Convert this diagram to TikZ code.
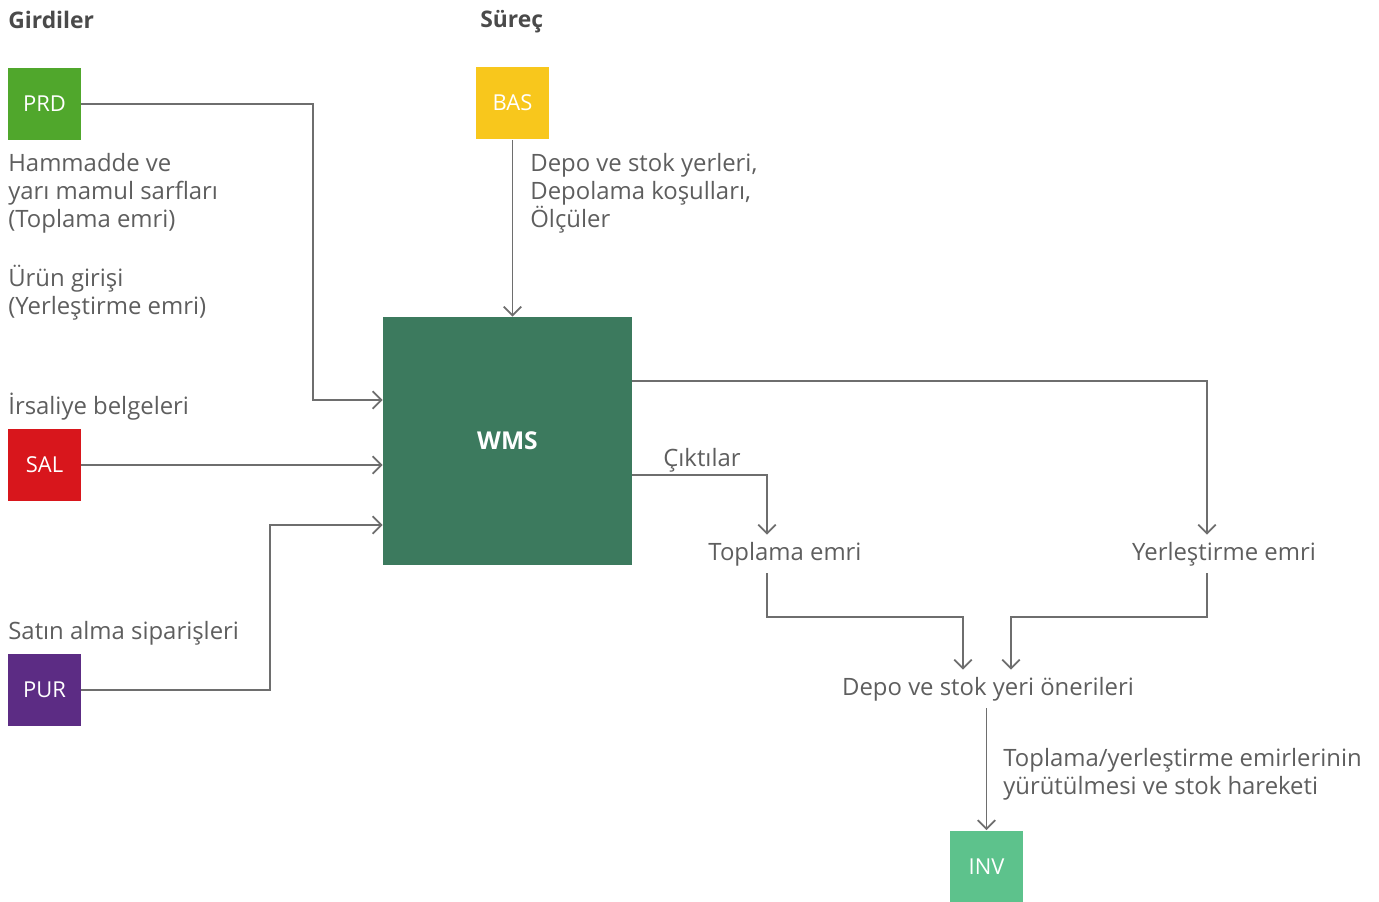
\documentclass[tikz,border=0pt]{standalone}
\usepackage{fontspec}
\setmainfont{Open Sans}
\usetikzlibrary{arrows.meta, calc}

\definecolor{prdgreen}{HTML}{50A72C}
\definecolor{basyellow}{HTML}{F8C71C}
\definecolor{wmsgreen}{HTML}{3C7A5E}
\definecolor{salred}{HTML}{D8161C}
\definecolor{purviolet}{HTML}{5C2C84}
\definecolor{invgreen}{HTML}{5DC28C}
\definecolor{txtgrey}{HTML}{5E5E5E}
\definecolor{headgrey}{HTML}{4A4A4A}
\definecolor{linegrey}{HTML}{6E6E6E}

\begin{document}
\begin{tikzpicture}[
    x=0.02cm, y=-0.02cm,
    >={Straight Barb[length=5pt, width=10pt]},
    module/.style={minimum size=1.46cm, inner sep=0pt, text=white, font=\fontsize{12.5}{15}\selectfont},
    lbl/.style={font=\fontsize{13.6}{16}\selectfont, text=txtgrey, inner sep=0pt, align=left},
    head/.style={font=\fontsize{13}{16}\selectfont\bfseries, text=headgrey, inner sep=0pt},
    flow/.style={->, draw=linegrey, line width=1pt}
]
\useasboundingbox (0,0) rectangle (1379,902);

% Column titles
\node[head, anchor=west] (girdiler) at (8, 20) {Girdiler};
\node[head, anchor=west] (surec) at (480, 22) {Süreç};

% Modules
\node[module, fill=prdgreen] (PRD) at (44.5, 104) {PRD};
\node[module, fill=basyellow] (BAS) at (512.5, 103) {BAS};
\node[module, fill=salred] (SAL) at (44.5, 465) {SAL};
\node[module, fill=purviolet] (PUR) at (44.5, 690) {PUR};
\node[module, fill=invgreen] (INV) at (986.5, 867) {INV};
\node[module, fill=wmsgreen, minimum width=4.98cm, minimum height=4.96cm,
      font=\fontsize{14}{16}\selectfont\bfseries] (WMS) at (507.5, 441) {WMS};

% Input texts
\node[lbl, anchor=north west] (sarf) at (8, 153) {Hammadde ve\\yarı mamul sarfları\\(Toplama emri)};
\node[lbl, anchor=north west] (giris) at (8, 265) {Ürün girişi\\(Yerleştirme emri)};
\node[lbl, anchor=west] (irsaliye) at (8, 407) {İrsaliye belgeleri};
\node[lbl, anchor=west] (siparis) at (8, 633) {Satın alma siparişleri};
\node[lbl, anchor=north west] (yerler) at (530, 153) {Depo ve stok yerleri,\\Depolama koşulları,\\Ölçüler};

% Output texts
\node[lbl, anchor=west] (cikti) at (663, 460) {Çıktılar};
\node[lbl, inner sep=4pt] (toplama) at (785, 554) {Toplama emri};
\node[lbl, inner sep=4pt] (yerlestirme) at (1224, 554) {Yerleştirme emri};
\node[lbl, inner sep=4pt] (oneri) at (988, 689) {Depo ve stok yeri önerileri};
\node[lbl, anchor=north west] (yurutme) at (1003, 748) {Toplama/yerleştirme emirlerinin\\yürütülmesi ve stok hareketi};

% Inputs to WMS
\draw[flow] (PRD.east) -- ++(232,0) |- ($(WMS.west)+(0,-41)$);
\draw[flow] (SAL.east) -- (SAL.east -| WMS.west);
\draw[flow] (PUR.east) -- ++(189,0) |- ($(WMS.west)+(0,84)$);
\draw[flow] (BAS.south) -- (BAS.south |- WMS.north);

% Outputs of WMS
\draw[flow] ($(WMS.east)+(0,-60)$) -| ($(yerlestirme.north)+(-17,0)$);
\draw[flow] ($(WMS.east)+(0,34)$) -| ($(toplama.north)+(-18,0)$);
\draw[flow] ($(toplama.south)+(-18,0)$) -- ++(0,44) -| ($(oneri.north)+(-25,0)$);
\draw[flow] ($(yerlestirme.south)+(-17,0)$) -- ++(0,44) -| ($(oneri.north)+(23,0)$);
\draw[flow] (oneri.south -| INV.north) -- (INV.north);

\end{tikzpicture}
\end{document}
